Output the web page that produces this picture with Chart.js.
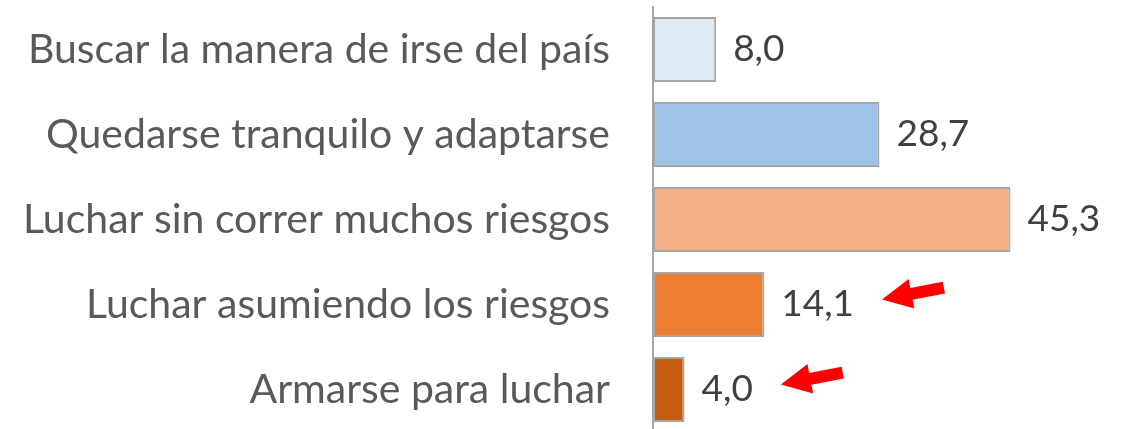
<!DOCTYPE html>
<html>
<head>
<meta charset="utf-8">
<script src="https://cdn.jsdelivr.net/npm/chart.js@4"></script>
<style>
html,body{margin:0;padding:0;background:#fff;overflow:hidden;}
#wrap{position:relative;width:1122px;height:429px;overflow:hidden;}
canvas{display:block;}
</style>
</head>
<body>
<div id="wrap"><canvas id="c" width="1122" height="432"></canvas></div>
<script>
const categories = [
  "Buscar la manera de irse del país",
  "Quedarse tranquilo y adaptarse",
  "Luchar sin correr muchos riesgos",
  "Luchar asumiendo los riesgos",
  "Armarse para luchar"
];
const values = [8.0, 28.7, 45.3, 14.1, 4.0];
const valueLabels = ["8,0", "28,7", "45,3", "14,1", "4,0"];
const barColors = ["#deebf7", "#9dc3e6", "#f4b183", "#ed7d31", "#c55a11"];
const highlighted = [3, 4];

const FONT = "Lato, 'Open Sans', sans-serif";
const TICK_SIZE = 41;
const LABEL_SIZE = 37;

const dataLabels = {
  id: 'dataLabels',
  afterDatasetsDraw(chart) {
    const ctx = chart.ctx;
    const meta = chart.getDatasetMeta(0);
    ctx.save();
    ctx.font = LABEL_SIZE + "px " + FONT;
    ctx.textBaseline = "middle";
    ctx.textAlign = "left";
    meta.data.forEach((bar, i) => {
      const x = bar.x + 17;
      ctx.fillStyle = "#404040";
      ctx.fillText(valueLabels[i], x, bar.y);
      if (highlighted.includes(i)) {
        const w = ctx.measureText(valueLabels[i]).width;
        const tipX = x + w + 28;
        const tipY = bar.y - 5;
        const ang = Math.atan2(-12, 62);
        const len = 63, headLen = 30, headHalf = 15, shaft = 6;
        const ux = Math.cos(ang), uy = Math.sin(ang);
        const px = -uy, py = ux;
        ctx.fillStyle = "#ff0000";
        ctx.beginPath();
        ctx.moveTo(tipX, tipY);
        ctx.lineTo(tipX + ux*headLen + px*headHalf, tipY + uy*headLen + py*headHalf);
        ctx.lineTo(tipX + ux*headLen + px*shaft, tipY + uy*headLen + py*shaft);
        ctx.lineTo(tipX + ux*len + px*shaft, tipY + uy*len + py*shaft);
        ctx.lineTo(tipX + ux*len - px*shaft, tipY + uy*len - py*shaft);
        ctx.lineTo(tipX + ux*headLen - px*shaft, tipY + uy*headLen - py*shaft);
        ctx.lineTo(tipX + ux*headLen - px*headHalf, tipY + uy*headLen - py*headHalf);
        ctx.closePath();
        ctx.fill();
      }
    });
    ctx.restore();
  }
};

new Chart(document.getElementById('c'), {
  type: 'bar',
  data: {
    labels: categories,
    datasets: [{
      data: values,
      backgroundColor: barColors,
      borderColor: "#a6a6a6",
      borderWidth: 2,
      borderSkipped: false,
      barPercentage: 0.765,
      categoryPercentage: 1.0
    }]
  },
  options: {
    indexAxis: 'y',
    responsive: false,
    animation: false,
    layout: { padding: { top: 7, right: 35, bottom: 0, left: 0 } },
    plugins: { legend: { display: false }, tooltip: { enabled: false } },
    scales: {
      x: { display: false, min: 0, max: 55 },
      y: {
        afterFit(scale) {
          scale.width = 653;
          scale.paddingTop = 0;
          scale.paddingBottom = 0;
        },
        grid: { display: false, drawTicks: false },
        border: { display: true, color: "#a6a6a6", width: 2 },
        ticks: {
          color: "#595959",
          padding: 43,
          font: { family: FONT, size: TICK_SIZE }
        }
      }
    }
  },
  plugins: [dataLabels]
});
</script>
</body>
</html>
